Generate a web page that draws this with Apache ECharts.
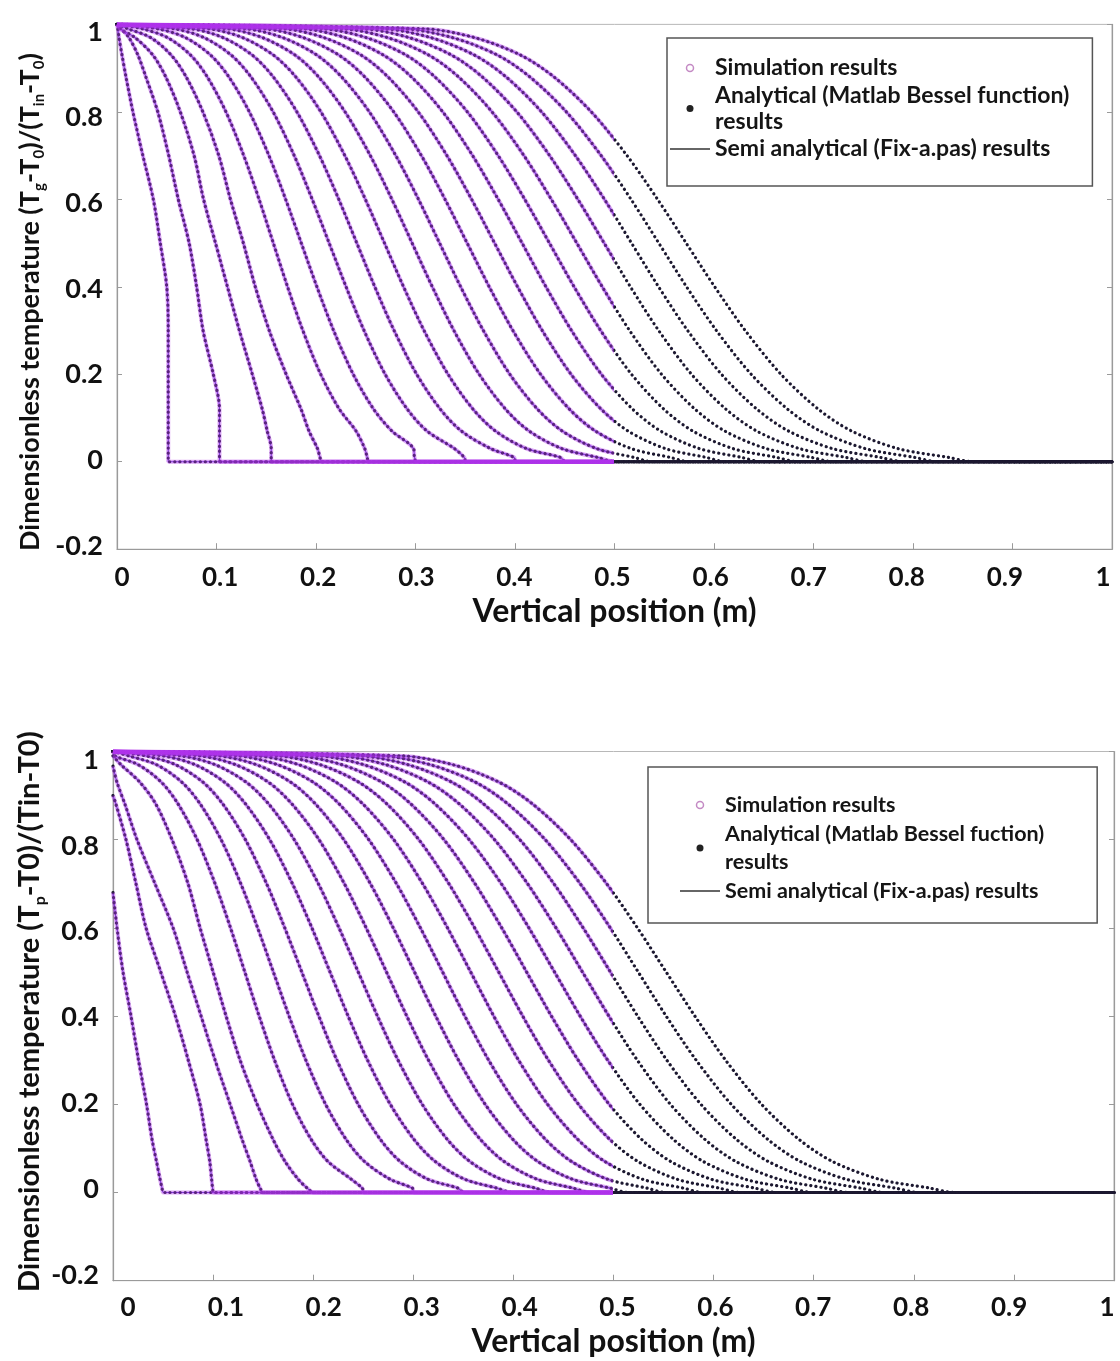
<!DOCTYPE html>
<html><head><meta charset="utf-8">
<script src="https://cdn.jsdelivr.net/npm/echarts@6/dist/echarts.min.js"></script>
<style>html,body{margin:0;padding:0;background:#fff}#c{width:1120px;height:1361px}</style>
</head><body><div id="c"></div>
<script>
// ---- data ----
// Each curve is described by the x position (m) where it passes each of these levels
const yLevels = [1, 0.99, 0.97, 0.93, 0.88, 0.8, 0.7, 0.6, 0.5, 0.4, 0.3, 0.2, 0.12, 0.07, 0.03, 0.01, 0];
const xDomain = [0, 1];
const simLimit = 0.5;          // simulation / semi-analytical results cover x <= 0.5 m
const xTicks = [0, 0.1, 0.2, 0.3, 0.4, 0.5, 0.6, 0.7, 0.8, 0.9, 1];
const yTicks = [-0.2, 0, 0.2, 0.4, 0.6, 0.8, 1];

// gas temperature profiles (top panel), 20 instants
const gasX = [
 [0, 0.0008, 0.002, 0.005, 0.009, 0.016, 0.026, 0.0365, 0.0435, 0.05, 0.0515, 0.0515, 0.0515, 0.0515, 0.0515, 0.0515, 0.0515],
 [0, 0.004, 0.012, 0.021, 0.029, 0.041, 0.052, 0.0616, 0.0725, 0.08, 0.0865, 0.0968, 0.103, 0.103, 0.103, 0.103, 0.1035],
 [0, 0.003, 0.018, 0.036, 0.049, 0.0636, 0.0775, 0.087, 0.099, 0.111, 0.123, 0.136, 0.146, 0.151, 0.155, 0.155, 0.1555],
 [0, 0.011, 0.0337, 0.0544, 0.0695, 0.0863, 0.1023, 0.114, 0.127, 0.139, 0.153, 0.17, 0.185, 0.193, 0.2015, 0.204, 0.206],
 [0, 0.0255, 0.0507, 0.0739, 0.0907, 0.1095, 0.1274, 0.1428, 0.1571, 0.1714, 0.1868, 0.2047, 0.2235, 0.2403, 0.249, 0.2515, 0.253],
 [0, 0.0409, 0.0686, 0.094, 0.1124, 0.133, 0.1527, 0.1695, 0.1852, 0.2009, 0.2177, 0.2374, 0.258, 0.2764, 0.298, 0.299, 0.301],
 [0, 0.0574, 0.0872, 0.1147, 0.1346, 0.1569, 0.1781, 0.1962, 0.2132, 0.2302, 0.2483, 0.2695, 0.2918, 0.3117, 0.3392, 0.349, 0.351],
 [0, 0.0745, 0.1064, 0.1358, 0.157, 0.1808, 0.2035, 0.2229, 0.241, 0.2591, 0.2785, 0.3012, 0.325, 0.3462, 0.3756, 0.399, 0.401],
 [0, 0.0921, 0.126, 0.1571, 0.1797, 0.2049, 0.229, 0.2496, 0.2688, 0.288, 0.3086, 0.3327, 0.3579, 0.3805, 0.4116, 0.4455, 0.451],
 [0, 0.1104, 0.146, 0.1789, 0.2026, 0.2292, 0.2546, 0.2763, 0.2966, 0.3169, 0.3386, 0.364, 0.3906, 0.4143, 0.4472, 0.4828, 0.501],
 [0, 0.1289, 0.1663, 0.2008, 0.2257, 0.2536, 0.2802, 0.303, 0.3242, 0.3454, 0.3682, 0.3948, 0.4227, 0.4476, 0.4821, 0.5195, 0.5379],
 [0, 0.1479, 0.187, 0.2229, 0.249, 0.2781, 0.3059, 0.3297, 0.3519, 0.3741, 0.3979, 0.4257, 0.4548, 0.4809, 0.5168, 0.5559, 0.5751],
 [0, 0.1671, 0.2078, 0.2452, 0.2723, 0.3027, 0.3316, 0.3564, 0.3795, 0.4026, 0.4274, 0.4563, 0.4867, 0.5138, 0.5512, 0.5919, 0.6119],
 [0, 0.1867, 0.2289, 0.2677, 0.2959, 0.3274, 0.3574, 0.3831, 0.4071, 0.4311, 0.4568, 0.4868, 0.5183, 0.5465, 0.5853, 0.6275, 0.6483],
 [0, 0.2064, 0.2501, 0.2904, 0.3195, 0.3521, 0.3831, 0.4098, 0.4346, 0.4594, 0.4861, 0.5171, 0.5497, 0.5788, 0.6191, 0.6628, 0.6843],
 [0, 0.2265, 0.2716, 0.3132, 0.3432, 0.3769, 0.409, 0.4365, 0.4621, 0.4877, 0.5152, 0.5473, 0.581, 0.611, 0.6526, 0.6977, 0.7199],
 [0, 0.2468, 0.2933, 0.3361, 0.3671, 0.4018, 0.4348, 0.4632, 0.4896, 0.516, 0.5444, 0.5774, 0.6121, 0.6431, 0.6859, 0.7324, 0.7553],
 [0, 0.2672, 0.3151, 0.3591, 0.391, 0.4267, 0.4607, 0.4899, 0.5171, 0.5443, 0.5735, 0.6075, 0.6432, 0.6751, 0.7191, 0.767, 0.7905],
 [0, 0.2877, 0.3369, 0.3822, 0.4149, 0.4516, 0.4866, 0.5166, 0.5445, 0.5724, 0.6024, 0.6374, 0.6741, 0.7068, 0.7521, 0.8013, 0.8255],
 [0, 0.3086, 0.3591, 0.4055, 0.4391, 0.4767, 0.5126, 0.5433, 0.572, 0.6007, 0.6314, 0.6673, 0.7049, 0.7385, 0.7849, 0.8354, 0.8602]
];

// particle temperature at x = 0 (bottom panel), same 20 instants
const particleInlet = [0.68, 0.9, 0.967, 0.99, 1, 1, 1, 1, 1, 1, 1, 1, 1, 1, 1, 1, 1, 1, 1, 1];
// particle temperature profiles (bottom panel); null = level not reached
const particleX = [
 [null, null, null, null, null, null, null, 0.004, 0.01, 0.018, 0.0255, 0.0335, 0.039, 0.0435, 0.047, 0.049, 0.0505],
 [null, null, null, null, 0.003, 0.013, 0.023, 0.033, 0.0477, 0.0624, 0.0752, 0.087, 0.093, 0.0967, 0.0985, 0.0995, 0.1005],
 [null, null, null, 0.004, 0.012, 0.024, 0.042, 0.06, 0.074, 0.088, 0.102, 0.117, 0.129, 0.137, 0.143, 0.147, 0.15],
 [null, null, 0.008, 0.027, 0.043, 0.059, 0.075, 0.087, 0.1, 0.113, 0.127, 0.144, 0.16, 0.172, 0.185, 0.194, 0.2005],
 [null, 0.002, 0.0253, 0.0485, 0.0653, 0.0841, 0.102, 0.1174, 0.1317, 0.146, 0.1614, 0.1793, 0.1981, 0.2149, 0.2381, 0.249, 0.251],
 [null, 0.0159, 0.0436, 0.069, 0.0874, 0.108, 0.1277, 0.1445, 0.1602, 0.1759, 0.1927, 0.2124, 0.233, 0.2514, 0.2768, 0.299, 0.301],
 [null, 0.0328, 0.0626, 0.0901, 0.11, 0.1323, 0.1535, 0.1716, 0.1886, 0.2056, 0.2237, 0.2449, 0.2672, 0.2871, 0.3146, 0.3444, 0.351],
 [null, 0.0503, 0.0822, 0.1116, 0.1328, 0.1566, 0.1793, 0.1987, 0.2168, 0.2349, 0.2543, 0.277, 0.3008, 0.322, 0.3514, 0.3833, 0.399],
 [null, 0.0683, 0.1022, 0.1333, 0.1559, 0.1811, 0.2052, 0.2258, 0.245, 0.2642, 0.2848, 0.3089, 0.3341, 0.3567, 0.3878, 0.4217, 0.4383],
 [null, 0.087, 0.1226, 0.1555, 0.1792, 0.2058, 0.2312, 0.2529, 0.2732, 0.2935, 0.3152, 0.3406, 0.3672, 0.3909, 0.4238, 0.4594, 0.477],
 [null, 0.1059, 0.1433, 0.1778, 0.2027, 0.2306, 0.2572, 0.28, 0.3012, 0.3224, 0.3452, 0.3718, 0.3997, 0.4246, 0.4591, 0.4965, 0.5149],
 [null, 0.1253, 0.1644, 0.2003, 0.2264, 0.2555, 0.2833, 0.3071, 0.3293, 0.3515, 0.3753, 0.4031, 0.4322, 0.4583, 0.4942, 0.5333, 0.5525],
 [null, 0.1449, 0.1856, 0.223, 0.2501, 0.2805, 0.3094, 0.3342, 0.3573, 0.3804, 0.4052, 0.4341, 0.4645, 0.4916, 0.529, 0.5697, 0.5897],
 [null, 0.1649, 0.2071, 0.2459, 0.2741, 0.3056, 0.3356, 0.3613, 0.3853, 0.4093, 0.435, 0.465, 0.4965, 0.5247, 0.5635, 0.6057, 0.6265],
 [null, 0.185, 0.2287, 0.269, 0.2981, 0.3307, 0.3617, 0.3884, 0.4132, 0.438, 0.4647, 0.4957, 0.5283, 0.5574, 0.5977, 0.6414, 0.6629],
 [null, 0.2055, 0.2506, 0.2922, 0.3222, 0.3559, 0.388, 0.4155, 0.4411, 0.4667, 0.4942, 0.5263, 0.56, 0.59, 0.6316, 0.6767, 0.6989],
 [null, 0.2262, 0.2727, 0.3155, 0.3465, 0.3812, 0.4142, 0.4426, 0.469, 0.4954, 0.5238, 0.5568, 0.5915, 0.6225, 0.6653, 0.7118, 0.7347],
 [null, 0.247, 0.2949, 0.3389, 0.3708, 0.4065, 0.4405, 0.4697, 0.4969, 0.5241, 0.5533, 0.5873, 0.623, 0.6549, 0.6989, 0.7468, 0.7703],
 [null, 0.2679, 0.3171, 0.3624, 0.3951, 0.4318, 0.4668, 0.4968, 0.5247, 0.5526, 0.5826, 0.6176, 0.6543, 0.687, 0.7323, 0.7815, 0.8057],
 [null, 0.2892, 0.3397, 0.3861, 0.4197, 0.4573, 0.4932, 0.5239, 0.5526, 0.5813, 0.612, 0.6479, 0.6855, 0.7191, 0.7655, 0.816, 0.8408]
];

const SIM = 'Simulation results';
const SEMI = 'Semi analytical (Fix-a.pas) results';
const GAS_AN = 'Analytical (Matlab Bessel function) results';
const PART_AN = 'Analytical (Matlab Bessel fuction) results';

// ---- styles ----
const FONT = 'Lato, "Open Sans", "DejaVu Sans", sans-serif';
const SIM_COLOR = 'rgba(175, 50, 235, 0.42)';
const SEMI_COLOR = '#6a3fd8';
const DOT_COLOR = '#1c1830';
const AXIS_COLOR = '#9a9a9a';

const chart = echarts.init(document.getElementById('c'), null, { renderer: 'canvas' });

const panels = [
  { rows: gasX, inlets: null, analytical: GAS_AN },
  { rows: particleX, inlets: particleInlet, analytical: PART_AN }
];
const series = [];
const clipped = [];   // series drawn only for x <= simLimit: [seriesIndex, panel, color]
panels.forEach((p, pi) => {
  p.rows.forEach((xs, k) => {
    const pts = [];
    if (p.inlets) pts.push([xDomain[0], p.inlets[k]]);
    xs.forEach((x, i) => { if (x !== null) pts.push([x, yLevels[i]]); });
    pts.push([xDomain[1], 0]);
    const common = { type: 'line', xAxisIndex: pi * 2, yAxisIndex: pi * 3, symbol: 'none', showSymbol: false,
      smooth: 0.3, animation: false, silent: true, data: pts };
    clipped.push([series.length, pi, SEMI_COLOR]);
    series.push(Object.assign({}, common, { name: SEMI, z: 1, lineStyle: { color: SEMI_COLOR, width: 1.2 } }));
    series.push(Object.assign({}, common, { name: p.analytical, z: 2,
      lineStyle: { color: DOT_COLOR, width: 3.2, type: [0.1, 5], cap: 'round' } }));
    clipped.push([series.length, pi, SIM_COLOR]);
    series.push(Object.assign({}, common, { name: SIM, z: 3, lineStyle: { color: SIM_COLOR, width: 4 } }));
  });
});

const labelStyle = (size) => ({ fontFamily: FONT, fontWeight: 'bold', fontSize: size, color: '#111' });
const noZeroLine = (extra) => Object.assign({ onZero: false, lineStyle: { color: AXIS_COLOR, width: 1.2 } }, extra || {});

function xAxes(grid, lblMin, lblMax, gap, margin) {
  return [
    { type: 'value', gridIndex: grid, min: xDomain[0], max: xDomain[1], interval: 0.1, position: 'bottom',
      axisLine: noZeroLine(),
      axisTick: { inside: true, length: 6, lineStyle: { color: AXIS_COLOR } },
      axisLabel: { show: false }, splitLine: { show: false },
      name: 'Vertical position (m)', nameLocation: 'middle', nameGap: gap,
      nameTextStyle: labelStyle(32) },
    { type: 'value', gridIndex: grid, min: lblMin, max: lblMax, position: 'bottom',
      axisLine: noZeroLine({ show: false }), axisTick: { show: false }, splitLine: { show: false },
      axisLabel: Object.assign({ customValues: xTicks, margin: margin }, labelStyle(26)) }
  ];
}
function yAxes(grid, lblMin, lblMax) {
  return [
    { type: 'value', gridIndex: grid, min: -0.2, max: 1, interval: 0.2, position: 'left',
      axisLine: noZeroLine(),
      axisTick: { inside: true, length: 5, lineStyle: { color: AXIS_COLOR } },
      axisLabel: { show: false }, splitLine: { show: false } },
    { type: 'value', gridIndex: grid, min: -0.2, max: 1, interval: 0.2, position: 'right',
      axisLine: noZeroLine(),
      axisTick: { inside: true, length: 5, lineStyle: { color: AXIS_COLOR } },
      axisLabel: { show: false }, splitLine: { show: false } },
    { type: 'value', gridIndex: grid, min: lblMin, max: lblMax, position: 'left',
      axisLine: noZeroLine({ show: false }), axisTick: { show: false }, splitLine: { show: false },
      axisLabel: Object.assign({ customValues: yTicks, margin: 14 }, labelStyle(27)) }
  ];
}

function legend(name, left, top, padding, itemWidth, fontSize, lineHeight, gap) {
  return {
    left: left, top: top, orient: 'vertical', padding: padding, itemGap: gap,
    itemWidth: itemWidth, itemHeight: 7, selectedMode: false,
    borderColor: '#555', borderWidth: 1.5, backgroundColor: '#fff',
    textStyle: { fontFamily: FONT, fontWeight: 'bold', fontSize: fontSize, color: '#151515', lineHeight: lineHeight },
    formatter: (n) => n.replace(/(fu\w*ction\)) results/, '$1\nresults'),
    data: [
      { name: SIM, icon: 'circle', itemStyle: { color: '#fff', borderColor: '#c48ac4', borderWidth: 1.5 } },
      { name: name, icon: 'circle', itemStyle: { color: '#222', borderWidth: 0 } },
      { name: SEMI, icon: 'path://M0,0H40V1.3H0Z', itemStyle: { color: '#333', borderWidth: 0 } }
    ]
  };
}

function yTitle(x, y, text, size, subSize) {
  return { type: 'text', x: x, y: y, rotation: Math.PI / 2, silent: true,
    style: { text: text, align: 'left', textAlign: 'left', verticalAlign: 'middle', textVerticalAlign: 'middle',
      rich: {
        a: { fontFamily: FONT, fontWeight: 'bold', fontSize: size, fill: '#111', color: '#111', lineHeight: size + 6 },
        s: { fontFamily: FONT, fontWeight: 'bold', fontSize: subSize, fill: '#111', color: '#111', lineHeight: subSize, verticalAlign: 'bottom' }
      } } };
}

const option = {
  backgroundColor: '#fff',
  animation: false,
  grid: [
    { left: 117, top: 24.4, width: 995, height: 524.8, show: true, borderColor: '#b8b8b8', borderWidth: 1 },
    { left: 113, top: 751.5, width: 1001, height: 529.2, show: true, borderColor: '#b8b8b8', borderWidth: 1 }
  ],
  xAxis: [].concat(xAxes(0, -0.0051, 1.0092, 46, 15), xAxes(1, -0.0153, 1.0072, 45, 14)),
  yAxis: [].concat(yAxes(0, -0.2075, 1.0178), yAxes(1, -0.2132, 1.0198)),
  legend: [
    legend(GAS_AN, 667, 38, [17, 23, 24, 3], 40, 23, 26, 1.5),
    legend(PART_AN, 648, 767, [24, 53, 18, 32], 40, 21.5, 28, 1)
  ],
  graphic: [
    yTitle(30, 551, '{a|Dimensionless temperature (T}{s|g}{a|-T}{s|0}{a|)/(T}{s|in}{a|-T}{s|0}{a|)}', 27, 15),
    yTitle(30, 1292, '{a|Dimensionless temperature (T}{s|p}{a|-T0)/(Tin-T0)}', 29, 16)
  ],
  series: series
};
chart.setOption(option);

// simulation & semi-analytical results exist only for x <= simLimit:
// colour them with a hard-stop gradient placed through the x axis scale
const updates = series.map(() => ({}));
clipped.forEach(([idx, pi, color]) => {
  const p0 = chart.convertToPixel({ xAxisIndex: pi * 2 }, xDomain[0]);
  const p1 = chart.convertToPixel({ xAxisIndex: pi * 2 }, xDomain[1]);
  const pc = chart.convertToPixel({ xAxisIndex: pi * 2 }, simLimit);
  const f = (pc - p0) / (p1 - p0);
  updates[idx] = { lineStyle: { color: { type: 'linear', x: p0, y: 0, x2: p1, y2: 0, global: true,
    colorStops: [{ offset: 0, color: color }, { offset: f, color: color },
                 { offset: f, color: 'rgba(0,0,0,0)' }, { offset: 1, color: 'rgba(0,0,0,0)' }] } } };
});
chart.setOption({ series: updates });
</script>
</body></html>
